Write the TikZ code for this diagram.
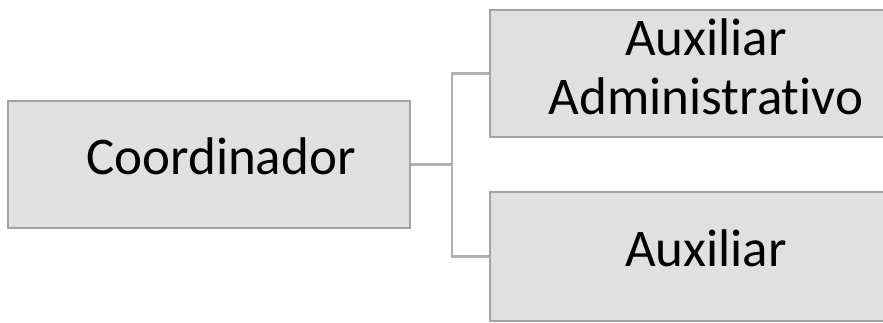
\documentclass[tikz,border=0pt]{standalone}
\usepackage{fontspec}
\setmainfont[Ligatures=CommonOff]{Carlito}
\begin{document}
\begin{tikzpicture}[x=1pt, y=-1pt,
    caixa/.style={draw=gray!72, line width=1.6pt, fill=gray!24, inner sep=0pt, align=center,
        text depth=16pt, font=\fontsize{53pt}{59pt}\selectfont},
    ligacao/.style={draw=gray!62, line width=2.8pt}]
        \useasboundingbox (0, 0) rectangle (883, 323);
        \clip (0, 0) rectangle (883, 323);

        % Caixa principal
        \node[caixa, minimum width=402pt, minimum height=127pt] (coord) at (209, 164.5) {\hspace*{24pt}Coordinador};

        % Caixas subordinadas
        \node[caixa, minimum width=432pt, minimum height=127pt, text depth=14pt] (auxadm) at (706, 73.5) {Auxiliar\\Administrativo};
        \node[caixa, minimum width=432pt, minimum height=129pt] (aux) at (706, 256.5) {Auxiliar};

        % Ligações
        \coordinate (ramo) at (452, 164.5);
        \draw[ligacao] (coord.east) -- (ramo);
        \draw[ligacao] (ramo) |- (auxadm.west);
        \draw[ligacao] (ramo) |- (aux.west);
    \end{tikzpicture}
\end{document}
